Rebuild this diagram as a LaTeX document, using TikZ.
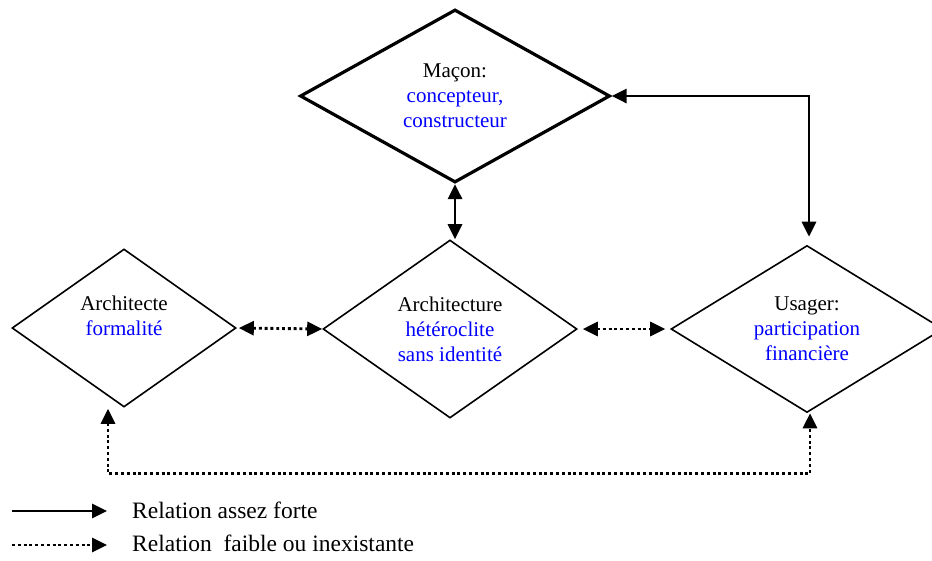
\documentclass[tikz,border=0pt]{standalone}
\usepackage{fontspec}
\setmainfont{Liberation Serif}
\usetikzlibrary{shapes.geometric,arrows.meta,positioning}
\newcommand\bleu[1]{\textcolor{blue}{#1}}

\begin{document}
\begin{tikzpicture}[
x=1pt, y=-1pt,
losange/.style={
  draw,
  diamond,
  inner sep=0pt,
  align=center,
  font=\fontsize{21}{25}\selectfont,
  line width=1.6pt
  },
forte/.style={
  line width=2.9pt,
  <->
  },
faible/.style={
  line width=2.9pt,
  dash pattern=on 2.9pt off 2.9pt,
  <->
  },
legende/.style={
  anchor=base west,
  inner sep=0pt,
  font=\fontsize{23.5}{28}\selectfont
  },
>={Triangle[length=15pt,width=14pt]}
]
\clip (0,0) rectangle (932,560);
% les quatre acteurs
\node[losange, line width=3.2pt, aspect=1.79, minimum width=310pt, minimum height=173pt]
  (macon) at (455,96) {Maçon:\\\bleu{concepteur,}\\\bleu{constructeur}};
\node[losange, aspect=1.42, minimum width=224pt, minimum height=158pt]
  (archt) at (124,328) {Architecte\\\bleu{formalité}\\\mbox{}};
\node[losange, aspect=1.43, minimum width=254pt, minimum height=178pt]
  (archi) at (450,329) {Architecture\\\bleu{hétéroclite}\\\bleu{sans identité}};
\node[losange, aspect=1.63, minimum width=272pt, minimum height=167pt]
  (usager) at (807,329) {Usager:\\\bleu{participation}\\\bleu{financière}};
% relations fortes
\draw[forte] (macon.south) -- (macon.south |- archi.north);
\draw[forte, shorten >=8pt] (macon.east) -- ([xshift=2pt]usager.north |- macon.east) -- ([xshift=2pt]usager.north);
% relations faibles
\draw[faible, shorten <=2pt] (archt.east) -- (archi.west);
\draw[faible, shorten <=5pt, shorten >=5pt] (archi.east) -- (usager.west);
\draw[faible, shorten <=1pt] ([xshift=-16pt]archt.south) -- ++(0,66) -| ([xshift=3pt]usager.south);
% legende
\coordinate (forteA) at (12,511);
\coordinate (forteB) at (107,511);
\coordinate (faibleA) at (12,545);
\coordinate (faibleB) at (107,545);
\draw[forte, ->] (forteA) -- (forteB);
\draw[faible, ->] (faibleA) -- (faibleB);
\node[legende] (txtforte) at (132,518) {Relation assez forte};
\node[legende] (txtfaible) at (132,551) {Relation\ \ faible ou inexistante};

\end{tikzpicture}
\end{document}
